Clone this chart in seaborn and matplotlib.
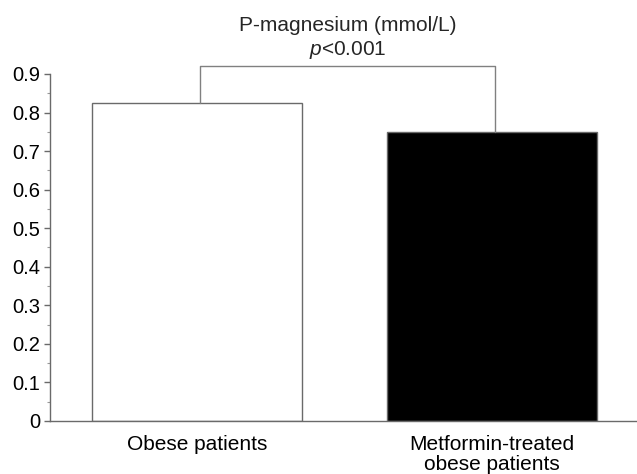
import matplotlib
matplotlib.use('Agg')
import matplotlib.pyplot as plt
from matplotlib.ticker import MultipleLocator, FuncFormatter
import seaborn as sns
import pandas as pd

# Data
groups = ['Obese patients', 'Metformin-treated\nobese patients']
magnesium = [0.825, 0.749]
bar_colors = ['white', 'black']
title = 'P-magnesium (mmol/L)'
pvalue_text = '$\\it{p}$<0.001'
bracket_y = 0.92

sns.set_theme(style='white')
plt.rcParams['font.family'] = ['Liberation Sans', 'DejaVu Sans']
plt.rcParams['mathtext.fontset'] = 'custom'
plt.rcParams['mathtext.it'] = 'Liberation Sans:italic'

df = pd.DataFrame({'group': groups, 'value': magnesium})

fig = plt.figure(figsize=(6.37, 4.74), dpi=100)
ax = fig.add_axes([50 / 637, 1 - 421 / 474, 1 - 50 / 637, (421 - 74) / 474])

sns.barplot(data=df, x='group', y='value', hue='group', palette=bar_colors,
            width=0.71, edgecolor='#6a6a6a', linewidth=1.0, legend=False, ax=ax)

ax.set_xlim(-0.498, 1.492)
ax.set_ylim(0, 0.9)
ax.set_xlabel('')
ax.set_ylabel('')
ax.yaxis.set_major_locator(MultipleLocator(0.1))
ax.yaxis.set_minor_locator(MultipleLocator(0.05))
ax.yaxis.set_major_formatter(FuncFormatter(lambda v, pos: '0' if abs(v) < 1e-9 else f'{v:.1f}'))

for side in ['top', 'right']:
    ax.spines[side].set_visible(False)
for side in ['left', 'bottom']:
    ax.spines[side].set_color('#6a6a6a')
    ax.spines[side].set_linewidth(1.0)

ax.tick_params(axis='y', which='major', left=True, length=4, width=1, color='#6a6a6a',
               labelsize=14.5, pad=3, labelcolor='black')
ax.tick_params(axis='y', which='minor', left=True, length=2.5, width=0.8, color='#9a9a9a')
ax.tick_params(axis='x', bottom=False, labelsize=15, pad=4, labelcolor='black')
for lbl in ax.get_xticklabels():
    lbl.set_linespacing(1.08)

# significance bracket
x0, x1 = 0.01, 1.01
ax.plot([x0, x0, x1, x1], [magnesium[0], bracket_y, bracket_y, magnesium[1]],
        color='#808080', linewidth=1.0, clip_on=False)
xm = (x0 + x1) / 2
ax.text(xm, 1.027, title, ha='center', va='center', fontsize=15, clip_on=False)
ax.text(xm, 0.962, pvalue_text, ha='center', va='center', fontsize=15, clip_on=False)

fig.savefig('out.png', dpi=100)
